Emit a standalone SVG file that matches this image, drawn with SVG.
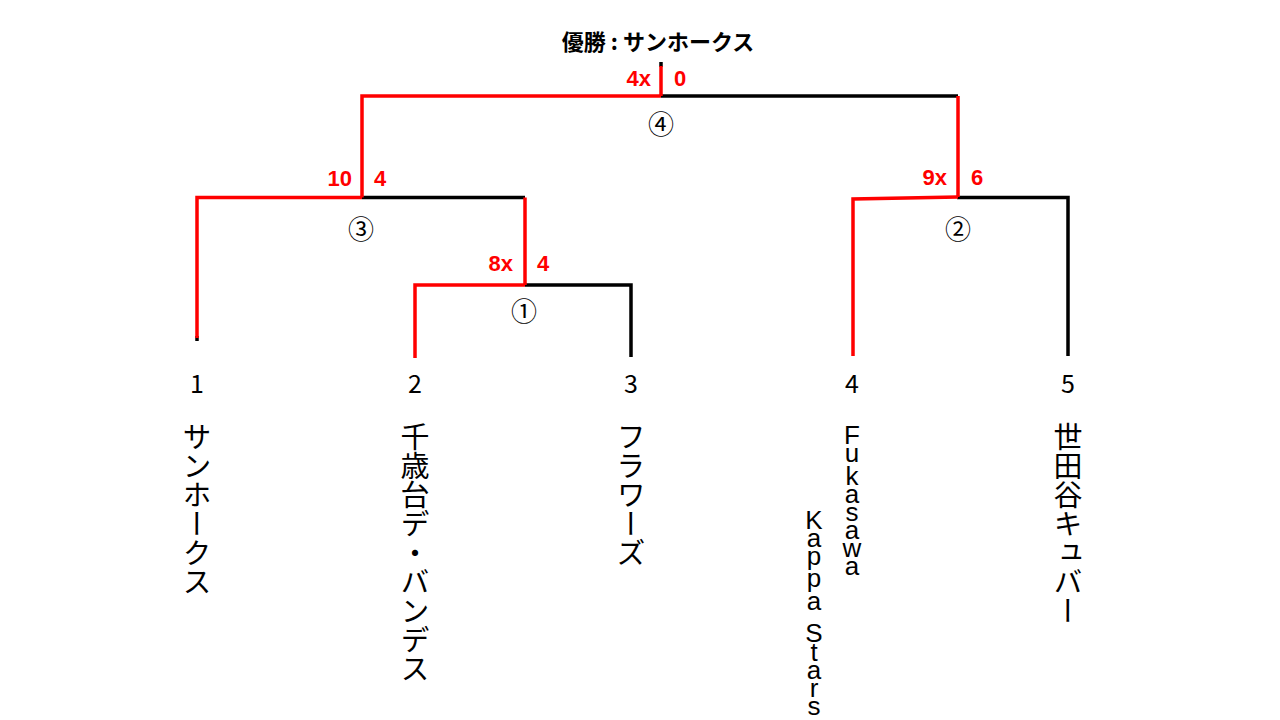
<svg xmlns="http://www.w3.org/2000/svg" width="1280" height="720" viewBox="0 0 1280 720">
<style>
.bk{stroke:#000;stroke-width:3.5;fill:none}
.rd{stroke:#FF0000;stroke-width:3.5;fill:none}
.sc{font-family:"Liberation Sans",Arial,sans-serif;font-weight:bold;font-size:22px;fill:#FF0000}
.mn{font-family:"Noto Sans CJK JP",sans-serif;font-size:26px;fill:#000;text-anchor:middle}
.num{font-family:"Noto Sans CJK JP",sans-serif;font-size:25px;fill:#000;text-anchor:middle}
.jp{font-family:"Noto Sans CJK JP",sans-serif;font-size:29px;fill:#000;writing-mode:vertical-rl}
.lt{font-family:"Liberation Sans",Arial,sans-serif;font-size:26px;fill:#000;text-anchor:middle}
.ttl{font-family:"Noto Sans CJK JP",sans-serif;font-weight:bold;font-size:22px;fill:#000;text-anchor:middle}
</style>
<rect width="1280" height="720" fill="#fff"/>
<g id="title"><text class="ttl" x="658" y="50">優勝 : サンホークス</text></g>
<g id="connectors">
  <path class="bk" d="M525 285 H631 V357"/>
  <path class="bk" d="M362 197.5 H525"/>
  <path class="bk" d="M957 197.5 H1068 V356"/>
  <path class="bk" d="M661 96 H958"/>
  <path class="bk" d="M197 336 V341"/>
  <path class="bk" d="M661 62 V67"/>
  <path class="rd" d="M415 358 V285 H525"/>
  <path class="rd" d="M525 285 V197.5"/>
  <path class="rd" d="M197 338 V197.5 H362"/>
  <path class="rd" d="M362 197.5 V96 H661"/>
  <path class="rd" d="M853 356 V199 L958 197"/>
  <path class="rd" d="M958 197 V96"/>
  <path class="rd" d="M661 96 V66"/>
</g>
<g id="match1"><text class="mn" x="524" y="321">①</text>
  <text class="sc" x="513" y="271" text-anchor="end">8x</text>
  <text class="sc" x="537" y="271">4</text></g>
<g id="match2"><text class="mn" x="958" y="239">②</text>
  <text class="sc" x="947" y="185" text-anchor="end">9x</text>
  <text class="sc" x="971" y="185">6</text></g>
<g id="match3"><text class="mn" x="361" y="239">③</text>
  <text class="sc" x="352" y="186" text-anchor="end">10</text>
  <text class="sc" x="374" y="186">4</text></g>
<g id="match4"><text class="mn" x="661" y="134">④</text>
  <text class="sc" x="651" y="86" text-anchor="end">4x</text>
  <text class="sc" x="674" y="86">0</text></g>
<g id="team1"><text class="num" x="197" y="393">1</text>
  <text class="jp" x="197" y="422">サンホークス</text></g>
<g id="team2"><text class="num" x="415" y="393">2</text>
  <text class="jp" x="415" y="422">千歳台デ・バンデス</text></g>
<g id="team3"><text class="num" x="631" y="393">3</text>
  <text class="jp" x="631" y="422">フラワーズ</text></g>
<g id="team4"><text class="num" x="852" y="393">4</text>
  <text class="lt"><tspan x="852" y="444">F</tspan><tspan x="852" y="462">u</tspan><tspan x="852" y="485">k</tspan><tspan x="852" y="503">a</tspan><tspan x="852" y="521">s</tspan><tspan x="852" y="539">a</tspan><tspan x="852" y="557">w</tspan><tspan x="852" y="575">a</tspan></text>
  <text class="lt"><tspan x="814" y="529">K</tspan><tspan x="814" y="547">a</tspan><tspan x="814" y="565">p</tspan><tspan x="814" y="587">p</tspan><tspan x="814" y="610">a</tspan><tspan x="814" y="642">S</tspan><tspan x="814" y="661">t</tspan><tspan x="814" y="679">a</tspan><tspan x="814" y="697">r</tspan><tspan x="814" y="715">s</tspan></text></g>
<g id="team5"><text class="num" x="1068" y="393">5</text>
  <text class="jp" x="1068" y="422">世田谷キュバー</text></g>
</svg>
